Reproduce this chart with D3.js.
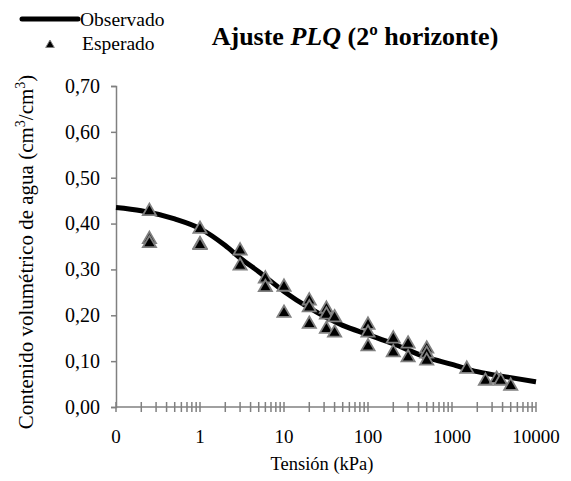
<!DOCTYPE html>
<html>
<head>
<meta charset="utf-8">
<script src="https://cdn.jsdelivr.net/npm/d3@7"></script>
</head>
<body style="margin:0">
<script>
// fitted curve (Observado)
const curveTension = [0.1, 0.2, 0.5, 1, 2, 3, 5, 10, 20, 50, 100, 200, 500, 1000, 2000, 5000, 10000];
const curveTheta   = [0.435, 0.428, 0.410, 0.389, 0.352, 0.325, 0.295, 0.252, 0.216, 0.178, 0.158, 0.138, 0.108, 0.093, 0.077, 0.064, 0.055];

// measured points (Esperado)
const ptTension = [0.25, 0.25, 0.25, 1, 1, 1, 3, 3, 6, 6, 10, 10, 20, 20, 20, 32, 32, 32, 40, 40,
                   100, 100, 100, 200, 200, 300, 300, 500, 500, 500, 1500, 2500, 3400, 3800, 5000];
const ptTheta   = [0.429, 0.368, 0.359, 0.390, 0.357, 0.355, 0.343, 0.310, 0.282, 0.263, 0.264, 0.207,
                   0.234, 0.219, 0.183, 0.216, 0.203, 0.172, 0.197, 0.164,
                   0.181, 0.164, 0.134, 0.151, 0.121, 0.140, 0.110, 0.129, 0.118, 0.103,
                   0.085, 0.059, 0.063, 0.059, 0.048];

const yTicks = [0, 0.1, 0.2, 0.3, 0.4, 0.5, 0.6, 0.7];
const xTicks = [0.1, 1, 10, 100, 1000, 10000];
const xTickLabels = ["0", "1", "10", "100", "1000", "10000"];

const W = 571, H = 481;
const axisColor = "#808080";
const fontName = "Liberation Serif, Tinos, Times New Roman, serif";

const svg = d3.select("body").append("svg")
  .attr("width", W)
  .attr("height", H)
  .style("font-family", fontName);

const x = d3.scaleLog().domain([0.1, 10000]).range([116, 536]);
const y = d3.scaleLinear().domain([0, 0.7]).range([407, 86]);

// y axis
const yAxis = svg.append("g")
  .attr("transform", "translate(116,0)")
  .call(d3.axisLeft(y).tickValues(yTicks).tickSize(5).tickPadding(11)
        .tickFormat(d => d3.format(".2f")(d).replace(".", ",")));
yAxis.attr("font-family", null).attr("font-size", null);
yAxis.select(".domain").attr("stroke", axisColor).attr("stroke-width", 1.5);
yAxis.selectAll(".tick line").attr("stroke", axisColor).attr("stroke-width", 1.5);
yAxis.selectAll(".tick text")
  .attr("fill", "#000")
  .style("font-family", fontName)
  .style("font-size", "20px");

// x axis: minor ticks crossing the axis line
const minor = [];
for (let e = -1; e < 4; e++) {
  for (let k = 1; k <= 9; k++) minor.push(k * Math.pow(10, e));
}
minor.push(10000);

const xg = svg.append("g").attr("transform", "translate(0,407)");
xg.append("line")
  .attr("x1", x(0.1)).attr("x2", x(10000))
  .attr("stroke", axisColor).attr("stroke-width", 1.5);
xg.selectAll("line.minor")
  .data(minor)
  .join("line")
    .attr("class", "minor")
    .attr("x1", d => x(d)).attr("x2", d => x(d))
    .attr("y1", -5).attr("y2", 5)
    .attr("stroke", axisColor).attr("stroke-width", 1.5);
xg.selectAll("text")
  .data(xTicks)
  .join("text")
    .attr("x", d => x(d))
    .attr("y", 36)
    .attr("text-anchor", "middle")
    .style("font-family", fontName)
    .style("font-size", "19px")
    .text((d, i) => xTickLabels[i]);

// fitted curve
const line = d3.line()
  .x((d, i) => x(curveTension[i]))
  .y(d => y(d))
  .curve(d3.curveMonotoneX);

svg.append("path")
  .datum(curveTheta)
  .attr("d", line)
  .attr("fill", "none")
  .attr("stroke", "#000")
  .attr("stroke-width", 5);

// triangles
const tri = d3.symbol().type(d3.symbolTriangle).size(75);
svg.selectAll("path.pt")
  .data(ptTheta)
  .join("path")
    .attr("class", "pt")
    .attr("d", tri)
    .attr("transform", (d, i) => `translate(${x(ptTension[i])},${y(d) + 1})`)
    .attr("fill", "#000")
    .attr("stroke", axisColor)
    .attr("stroke-width", 1.8);

// title
const title = svg.append("text")
  .attr("x", 355).attr("y", 45)
  .attr("text-anchor", "middle")
  .style("font-family", fontName)
  .style("font-size", "26px")
  .style("font-weight", "bold");
title.append("tspan").text("Ajuste ");
title.append("tspan").style("font-style", "italic").text("PLQ");
title.append("tspan").text(" (2º horizonte)");

// legend
svg.append("line")
  .attr("x1", 22).attr("x2", 78).attr("y1", 19).attr("y2", 19)
  .attr("stroke", "#000").attr("stroke-width", 5).attr("stroke-linecap", "round");
svg.append("text")
  .attr("x", 80).attr("y", 26)
  .style("font-family", fontName)
  .style("font-size", "19.5px")
  .text("Observado");
svg.append("path")
  .attr("d", d3.symbol().type(d3.symbolTriangle).size(32))
  .attr("transform", "translate(50,45)")
  .attr("fill", "#000").attr("stroke", axisColor).attr("stroke-width", 1);
svg.append("text")
  .attr("x", 82).attr("y", 50)
  .style("font-family", fontName)
  .style("font-size", "19.5px")
  .text("Esperado");

// axis titles
const yt = svg.append("text")
  .attr("transform", "translate(33,252) rotate(-90)")
  .attr("text-anchor", "middle")
  .style("font-family", fontName)
  .style("font-size", "21px");
yt.append("tspan").text("Contenido volumétrico de agua (cm");
yt.append("tspan").style("font-size", "14px").attr("dy", -8).text("3");
yt.append("tspan").attr("dy", 8).text("/cm");
yt.append("tspan").style("font-size", "14px").attr("dy", -8).text("3");
yt.append("tspan").attr("dy", 8).text(")");

svg.append("text")
  .attr("x", 322).attr("y", 470)
  .attr("text-anchor", "middle")
  .style("font-family", fontName)
  .style("font-size", "18.5px")
  .text("Tensión (kPa)");
</script>
</body>
</html>
